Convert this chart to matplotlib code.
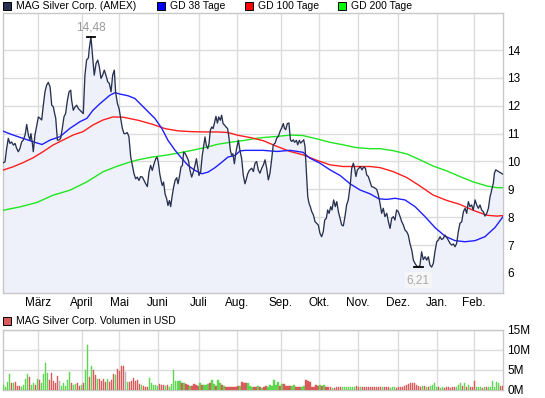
"""MAG Silver Corp. (AMEX) - Kurs mit gleitenden Durchschnitten und Volumen."""
import numpy as np
import matplotlib
matplotlib.use("Agg")
import matplotlib.pyplot as plt
from matplotlib.patches import Rectangle

plt.rcParams["font.family"] = ["Liberation Sans", "DejaVu Sans"]

# x axis = trading day index since start of chart
month_labels = ["März", "April", "Mai", "Juni", "Juli", "Aug.", "Sep.", "Okt.",
                "Nov.", "Dez.", "Jan.", "Feb."]
month_start_day = [19.2, 43.3, 63.6, 84.9, 107.4, 128.2, 152.3, 173.2,
                   194.5, 216.5, 237.8, 258.1]
last_day = 274
price_ticks = [6, 7, 8, 9, 10, 11, 12, 13, 14]
volume_ticks = [0, 5, 10, 15]

price_pts = [
    (0.0, 9.95), (1.1, 9.99), (2.0, 10.47), (2.9, 10.83), (3.8, 10.65), (4.7, 10.7),
    (5.7, 10.59), (6.6, 10.65), (7.5, 10.47), (8.4, 10.35), (9.3, 10.47), (10.2, 10.7),
    (11.1, 10.77), (12.1, 10.95), (13.0, 11.33), (13.9, 10.95), (14.8, 10.77), (15.3, 11.0),
    (16.1, 10.65), (16.6, 10.35), (17.5, 10.95), (18.5, 11.3), (19.4, 11.6), (20.3, 11.55),
    (21.2, 11.49), (22.1, 12.02), (23.0, 12.5), (23.9, 12.74), (24.8, 12.84), (25.8, 12.68),
    (26.7, 12.02), (27.6, 11.96), (28.1, 11.78), (28.9, 11.55), (29.8, 10.77), (30.7, 10.77),
    (31.6, 10.83), (32.5, 11.19), (33.4, 11.6), (34.3, 11.72), (35.3, 12.2), (36.2, 12.5),
    (37.1, 12.56), (37.6, 12.2), (38.5, 11.84), (39.5, 11.96), (40.4, 12.02), (41.3, 11.9),
    (42.2, 11.84), (43.1, 11.78), (44.0, 11.72), (44.9, 13.1), (45.8, 13.64), (46.8, 13.72),
    (47.3, 14.06), (48.2, 14.48), (49.1, 13.76), (50.0, 13.1), (51.0, 13.52), (51.9, 13.64),
    (52.8, 13.4), (53.7, 12.98), (54.6, 13.1), (55.5, 13.28), (56.4, 13.1), (57.4, 12.86),
    (58.3, 12.8), (59.2, 12.5), (60.1, 13.1), (61.0, 13.28), (61.7, 12.5), (62.7, 12.08),
    (63.6, 11.9), (64.5, 11.55), (65.4, 11.19), (66.3, 11.0), (67.2, 11.0), (68.1, 11.04),
    (69.0, 10.89),
    (70.0, 10.16), (70.9, 9.86), (71.8, 9.56), (72.7, 9.38), (73.6, 9.44), (74.5, 9.32),
    (75.4, 9.46), (76.4, 9.44), (77.3, 9.32), (78.2, 9.2), (79.1, 9.1), (80.0, 9.62),
    (80.9, 9.86), (81.8, 9.68), (82.8, 9.92), (83.7, 10.1), (84.4, 10.16), (85.1, 9.98),
    (85.9, 9.56), (86.6, 9.32), (87.3, 9.14), (88.0, 9.26), (88.8, 8.84), (89.7, 8.66),
    (90.4, 8.42), (91.2, 8.6), (91.9, 8.38), (92.6, 8.72), (93.5, 9.08), (94.3, 9.32),
    (95.2, 9.42), (95.9, 9.2), (96.8, 9.5), (97.5, 9.8), (98.3, 9.86), (99.0, 10.34),
    (99.9, 10.28), (100.8, 10.16), (101.6, 10.04), (102.5, 9.68), (103.4, 9.44), (104.3, 9.62),
    (105.2, 9.86), (106.0, 10.1), (106.7, 9.8), (107.4, 9.5), (108.3, 9.62), (109.2, 10.22),
    (110.0, 10.58), (110.7, 10.88), (111.4, 10.58), (112.2, 10.46), (112.9, 10.64), (113.6, 11.12),
    (114.4, 11.24), (115.1, 11.18), (115.8, 11.36), (116.7, 11.62), (117.5, 11.38), (118.2, 11.6),
    (119.1, 11.48), (119.8, 11.66), (120.6, 11.36), (121.5, 11.3), (122.2, 11.24), (123.1, 11.18),
    (123.9, 10.82), (124.6, 10.4), (125.3, 10.22), (126.0, 10.28), (126.8, 9.92), (127.5, 10.28),
    (128.2, 10.52), (129.0, 10.76), (129.9, 10.38), (130.8, 10.1), (131.7, 9.5), (132.6, 9.2),
    (133.4, 9.38), (134.1, 9.56), (135.0, 9.68),
    (136.3, 9.76), (137.2, 9.64), (138.1, 9.94), (139.0, 10.0), (139.9, 9.7), (140.8, 9.58),
    (141.8, 9.76), (142.7, 9.88), (143.6, 10.06), (144.5, 9.76), (145.4, 9.34), (146.3, 9.58),
    (147.2, 10.06), (148.1, 10.6), (149.1, 10.66), (150.0, 10.84), (150.9, 10.9), (151.8, 11.08),
    (152.7, 11.2), (153.6, 11.36), (154.2, 11.2), (154.9, 11.14), (155.8, 11.36), (156.7, 11.38),
    (157.5, 10.78), (158.2, 10.72), (159.1, 10.78), (159.8, 10.69), (160.8, 10.76), (161.5, 10.6),
    (162.4, 10.76), (163.1, 10.66), (164.0, 10.72), (164.8, 10.78), (165.5, 10.54), (166.2, 9.7),
    (167.0, 8.74), (167.7, 8.5), (168.4, 8.38), (169.2, 8.2), (170.1, 8.08), (171.0, 7.84),
    (171.9, 7.78), (172.8, 7.72), (173.7, 7.42), (174.6, 7.3), (175.5, 7.48), (176.3, 7.9),
    (177.2, 7.96), (177.9, 8.26), (178.7, 8.14), (179.6, 8.38), (180.3, 8.26), (181.2, 8.62),
    (182.1, 8.38), (182.9, 8.56), (183.8, 8.2), (184.7, 7.96), (185.6, 7.72), (186.5, 7.69),
    (187.4, 8.02), (188.3, 8.44), (189.2, 8.62), (190.2, 9.1), (191.1, 9.76), (192.0, 9.94),
    (192.7, 9.76), (193.4, 9.46), (194.2, 9.7), (195.1, 9.76), (195.8, 9.82), (196.7, 9.7),
    (197.6, 9.8), (198.6, 9.76), (199.3, 9.52), (200.2, 9.46), (201.1, 9.28), (202.0, 9.1),
    (203.0, 9.08),
    (203.9, 9.04), (204.8, 9.0), (205.7, 8.8), (206.6, 8.5), (207.5, 8.14), (208.4, 8.32),
    (209.3, 8.02), (210.3, 8.14), (211.2, 7.84), (212.1, 7.6), (213.0, 7.96), (213.9, 8.02),
    (214.8, 7.9), (215.7, 8.26), (216.6, 8.2), (217.6, 8.02), (218.5, 7.84), (219.4, 7.72),
    (220.3, 7.54), (221.2, 7.48), (222.1, 7.36), (223.0, 7.06), (224.0, 6.82), (224.9, 6.46),
    (225.8, 6.34), (226.7, 6.25), (227.6, 6.21), (228.5, 6.28), (229.4, 6.76), (230.3, 6.48),
    (231.3, 6.58), (232.2, 6.46), (233.1, 6.58), (234.0, 6.28), (234.9, 6.21), (235.8, 6.34),
    (236.7, 6.76), (237.7, 7.12), (238.6, 7.18), (239.5, 7.3), (240.4, 7.2), (241.3, 7.24),
    (242.2, 7.36), (243.1, 7.28), (244.0, 7.18), (245.0, 7.06), (245.9, 7.0), (246.8, 7.04),
    (247.7, 6.94), (248.6, 7.06), (249.5, 7.48), (250.4, 7.78), (251.4, 7.84), (252.3, 8.2),
    (253.2, 8.32), (254.1, 8.14), (255.0, 8.56), (255.9, 8.38), (256.8, 8.44), (257.7, 8.26),
    (258.7, 8.62), (259.6, 8.44), (260.5, 8.32), (261.4, 8.44), (262.3, 8.26), (263.2, 8.2),
    (264.1, 8.04), (265.1, 8.14), (266.0, 8.32), (266.9, 8.74), (267.4, 8.86), (267.8, 8.98),
    (268.7, 9.22), (269.3, 9.58), (270.0, 9.7), (271.5, 9.64), (272.9, 9.58), (273.8, 9.55),
]

gd38_pts = [
    (0.0, 11.09), (5.5, 10.95), (11.0, 10.83), (16.4, 10.71), (21.4, 10.61), (25.8, 10.77),
    (31.2, 10.89), (36.7, 11.19), (42.2, 11.43), (46.0, 11.55), (49.3, 11.84), (53.2, 12.08),
    (58.6, 12.38), (61.4, 12.47), (64.1, 12.42), (68.5, 12.36), (72.3, 12.26), (77.8, 11.9),
    (83.3, 11.54), (87.1, 11.18), (90.4, 10.76), (94.3, 10.4), (98.1, 10.1), (101.4, 9.86),
    (105.2, 9.68), (109.1, 9.56), (112.4, 9.62), (116.2, 9.78), (120.0, 9.98), (123.3, 10.16),
    (127.2, 10.22), (129.9, 10.38), (132.6, 10.4), (137.5, 10.4), (142.5, 10.4), (150.2, 10.36),
    (157.3, 10.4), (164.4, 10.33), (168.2, 10.12), (173.7, 9.94), (179.2, 9.7), (184.7, 9.5),
    (190.2, 9.2), (195.6, 8.98), (201.1, 8.84), (206.0, 8.66), (210.4, 8.64), (214.8, 8.68),
    (220.3, 8.62), (225.8, 8.38), (231.3, 8.02), (236.7, 7.63), (242.2, 7.32), (247.7, 7.16),
    (253.2, 7.12), (258.7, 7.16), (264.1, 7.3), (269.6, 7.63), (274.0, 8.02),
]

gd100_pts = [
    (0.0, 9.69), (5.5, 9.81), (11.0, 9.96), (16.4, 10.13), (21.9, 10.35), (27.4, 10.59),
    (32.9, 10.77), (38.4, 10.95), (43.8, 11.07), (49.3, 11.31), (54.8, 11.49), (60.3, 11.6),
    (65.8, 11.59), (74.0, 11.48), (81.7, 11.34), (88.8, 11.18), (95.9, 11.1), (103.6, 11.07),
    (110.7, 11.06), (117.8, 11.06), (123.3, 11.04), (128.8, 10.94), (135.4, 10.86), (142.5, 10.75),
    (150.2, 10.54), (157.3, 10.36), (164.4, 10.24), (172.1, 10.04), (179.2, 9.88), (186.3, 9.82),
    (193.4, 9.82), (201.1, 9.82), (206.6, 9.78), (213.7, 9.64), (221.4, 9.42), (228.5, 9.12),
    (235.6, 8.8), (243.3, 8.6), (250.4, 8.46), (257.6, 8.25), (265.2, 8.07), (270.7, 8.04),
    (274.0, 8.06),
]

gd200_pts = [
    (0.0, 8.25), (9.3, 8.37), (18.6, 8.53), (27.4, 8.79), (36.7, 8.97), (46.0, 9.27),
    (54.8, 9.63), (62.5, 9.83), (69.0, 9.97), (74.0, 10.06), (81.7, 10.16), (88.8, 10.22),
    (95.9, 10.3), (103.6, 10.4), (110.7, 10.5), (117.8, 10.62), (125.5, 10.7), (132.6, 10.76),
    (137.5, 10.82), (142.5, 10.86), (150.2, 10.9), (157.3, 10.95), (164.4, 10.93), (172.1, 10.81),
    (179.2, 10.69), (186.3, 10.6), (193.4, 10.5), (201.1, 10.46), (206.6, 10.46), (213.7, 10.39),
    (221.4, 10.27), (228.5, 10.06), (235.6, 9.84), (243.3, 9.66), (250.4, 9.46), (257.6, 9.27),
    (265.2, 9.12), (270.7, 9.06), (274.0, 9.06),
]

# daily volume in million USD
volume_mio = [
    1.3, 0.8, 2.1, 4.0, 1.7, 1.7, 2.1, 1.1, 1.1, 0.8,
    1.3, 2.75, 4.0, 3.2, 1.3, 1.7, 1.3, 2.75, 2.5, 1.7,
    4.0, 6.8, 4.3, 2.5, 4.2, 2.3, 1.7, 3.6, 2.3, 1.1,
    1.7, 1.1, 2.5, 4.6, 1.7, 1.3, 1.5, 1.7, 1.1, 1.3,
    1.7, 5.0, 11.3, 3.2, 6.1, 5.0, 3.8, 2.75, 2.75, 2.3,
    2.75, 1.9, 2.75, 1.9, 2.5, 4.0, 3.8, 5.25, 4.8, 6.1,
    6.1, 4.4, 1.9, 1.9, 2.3, 3.0, 2.2, 2.5, 1.5, 1.3,
    1.1, 0.8, 0.8, 3.0, 1.7, 1.3, 1.3, 1.1, 1.5, 1.3,
    1.3, 1.1, 1.3, 0.8, 1.5, 5.0, 2.3, 2.2, 2.2, 1.7,
    1.7, 1.5, 1.3, 1.1, 1.1, 1.5, 1.3, 1.1, 1.7, 1.3,
    1.3, 1.3, 1.5, 1.7, 2.5, 1.5, 1.1, 2.5, 1.7, 1.3,
    1.1, 0.8, 0.8, 0.8, 0.8, 0.8, 0.8, 1.1, 1.1, 1.9,
    1.7, 1.7, 1.7, 1.1, 0.8, 0.8, 0.8, 1.1, 0.8, 0.5,
    0.8, 1.1, 0.8, 1.3,
    1.1, 2.5, 1.3, 1.9, 1.1, 1.5, 1.5, 1.1, 1.1,
    1.1, 1.1, 1.3, 0.8, 0.8, 0.8, 0.8, 1.1, 2.5, 2.3,
    1.9, 0.8, 0.8, 1.3, 1.1, 1.3, 1.1, 1.3, 0.8, 0.7,
    0.8, 0.5, 0.5, 0.7, 0.7, 0.7, 0.8, 0.8, 0.7, 0.8,
    0.7, 0.8, 0.8, 1.1, 0.8, 0.7, 0.8, 0.8, 0.7, 0.7,
    0.7, 0.7, 0.8, 0.7, 0.7, 0.8, 0.7, 0.8, 0.7, 0.7,
    0.5, 0.8, 0.7, 0.5, 0.7, 0.7, 0.8, 1.1, 1.3, 1.5,
    1.7, 1.7, 1.7, 1.3, 1.1, 0.7, 1.1, 1.1, 0.8, 0.8,
    1.1, 1.3, 1.7, 0.8, 0.7, 0.5, 0.7, 0.5, 0.7, 0.7,
    0.5, 0.8, 0.7, 0.8, 1.3, 1.7, 1.1, 1.7, 0.8, 1.3,
    0.8, 0.7, 2.2, 0.8, 0.7, 0.8, 0.5, 0.8, 0.8, 0.8,
    0.7, 2.2, 0.8, 1.9, 1.7, 1.1, 1.1,
]
# u = Tag mit Kursplus, d = Kursminus, n = unverändert
volume_dir = "".join([
    "uuuududddu", "uuuduududu", "uuudddddnu", "uuuuduuddu", "duududdudd",
    "dduddduddd", "dnuddddddu", "ddduuuuudd", "duduuuuuud", "udduddddud",
    "uuuduuduud", "udddddddud", "dduuuddudu", "dduu",
    "uuuududdd", "duuddduudd", "dddddududd", "dudddduuuu", "uuuddudddd",
    "dddddduddd", "uuuddddddd", "ddddddudud", "uuuuduuddd", "ddduuududu",
    "ddduuududu", "uuuuudd",
])
assert len(volume_dir) == len(volume_mio)

BG_FILL = "#eef1f9"
GRID = "#dcdcdc"
FRAME = "#c8c8c8"
C_PRICE = "#283150"
C_GD38 = "#1f1fff"
C_GD100 = "#ff1f1f"
C_GD200 = "#1fe61f"
VOL_COLORS = {"u": "#5fd650", "d": "#d95a5a", "n": "#b4b4b4"}

W, H = 545, 398
fig = plt.figure(figsize=(W / 100, H / 100), dpi=100)
ax = fig.add_axes([3 / W, 1 - 293 / H, 500 / W, 280 / H])
axv = fig.add_axes([3 / W, 1 - 390 / H, 500 / W, 60 / H])

pd_, pc = np.array(price_pts).T
ax.fill_between(pd_, pc, 0, color=BG_FILL, lw=0, zorder=1)
for pts, col in [(gd200_pts, C_GD200), (gd100_pts, C_GD100), (gd38_pts, C_GD38)]:
    d, v = np.array(pts).T
    ax.plot(d, v, color=col, lw=1.0, zorder=3)
ax.plot(pd_, pc, color=C_PRICE, lw=0.95, zorder=4)

# high / low markers
i_hi, i_lo = int(np.argmax(pc)), int(np.argmin(pc))
for i, above in [(i_hi, True), (i_lo, False)]:
    ax.plot([pd_[i] - 2.4, pd_[i] + 2.4], [pc[i], pc[i]], color="black", lw=1.3, zorder=5)
    txt = f"{pc[i]:.2f}".replace(".", ",")
    if above:
        ax.annotate(txt, (pd_[i], pc[i]), xytext=(0, 2), textcoords="offset points",
                    ha="center", va="bottom", color="#999999", fontsize=8.5)
    else:
        ax.annotate(txt, (pd_[i], pc[i]), xytext=(0, -5), textcoords="offset points",
                    ha="center", va="top", color="#aaaaaa", fontsize=8.5,
                    bbox=dict(boxstyle="square,pad=0.15", fc="#f6f6f6", ec="none"))

ax.set_xlim(0, last_day)
ax.set_ylim(5.28, 15.33)
ax.set_yticks(price_ticks)
ax.set_yticklabels([str(t) for t in price_ticks])
ax.set_xticks(month_start_day)
ax.set_xticklabels(month_labels)

# volume
vd = np.linspace(0.3, last_day - 0.3, len(volume_mio))
vcolors = [VOL_COLORS[c] for c in volume_dir]
axv.bar(vd, volume_mio, width=0.7, color=vcolors, edgecolor=vcolors, lw=0.3, zorder=3)
axv.set_xlim(0, last_day)
axv.set_ylim(0, 15)
axv.set_yticks(volume_ticks)
axv.set_yticklabels([f"{t}M" for t in volume_ticks])
axv.set_xticks(month_start_day)
axv.set_xticklabels([])

for a in (ax, axv):
    a.set_facecolor("white")
    a.grid(color=GRID, lw=1.0, zorder=0)
    a.set_axisbelow(True)
    a.yaxis.tick_right()
    a.tick_params(length=0, labelsize=8.5, pad=3, colors="black")
    for s in a.spines.values():
        s.set_color(FRAME)
        s.set_linewidth(1.0)

# legends drawn as figure texts with small squares
legend = [("MAG Silver Corp. (AMEX)", C_PRICE, 3), ("GD 38 Tage", "#0000ff", 157),
          ("GD 100 Tage", "#ff0000", 245), ("GD 200 Tage", "#00ff00", 338)]
for label, col, x0 in legend:
    fig.patches.append(Rectangle((x0 / W, 1 - 10 / H), 8 / W, 8 / H, transform=fig.transFigure,
                                 fc=col, ec="black", lw=0.7))
    fig.text((x0 + 13) / W, 1 - 6 / H, label, fontsize=7.5, va="center", ha="left")

fig.patches.append(Rectangle((3 / W, 1 - 325 / H), 8 / W, 8 / H, transform=fig.transFigure,
                             fc=VOL_COLORS["d"], ec="black", lw=0.7))
fig.text(16 / W, 1 - 321 / H, "MAG Silver Corp. Volumen in USD", fontsize=7.5,
         va="center", ha="left")

fig.savefig("out.png", dpi=100)
